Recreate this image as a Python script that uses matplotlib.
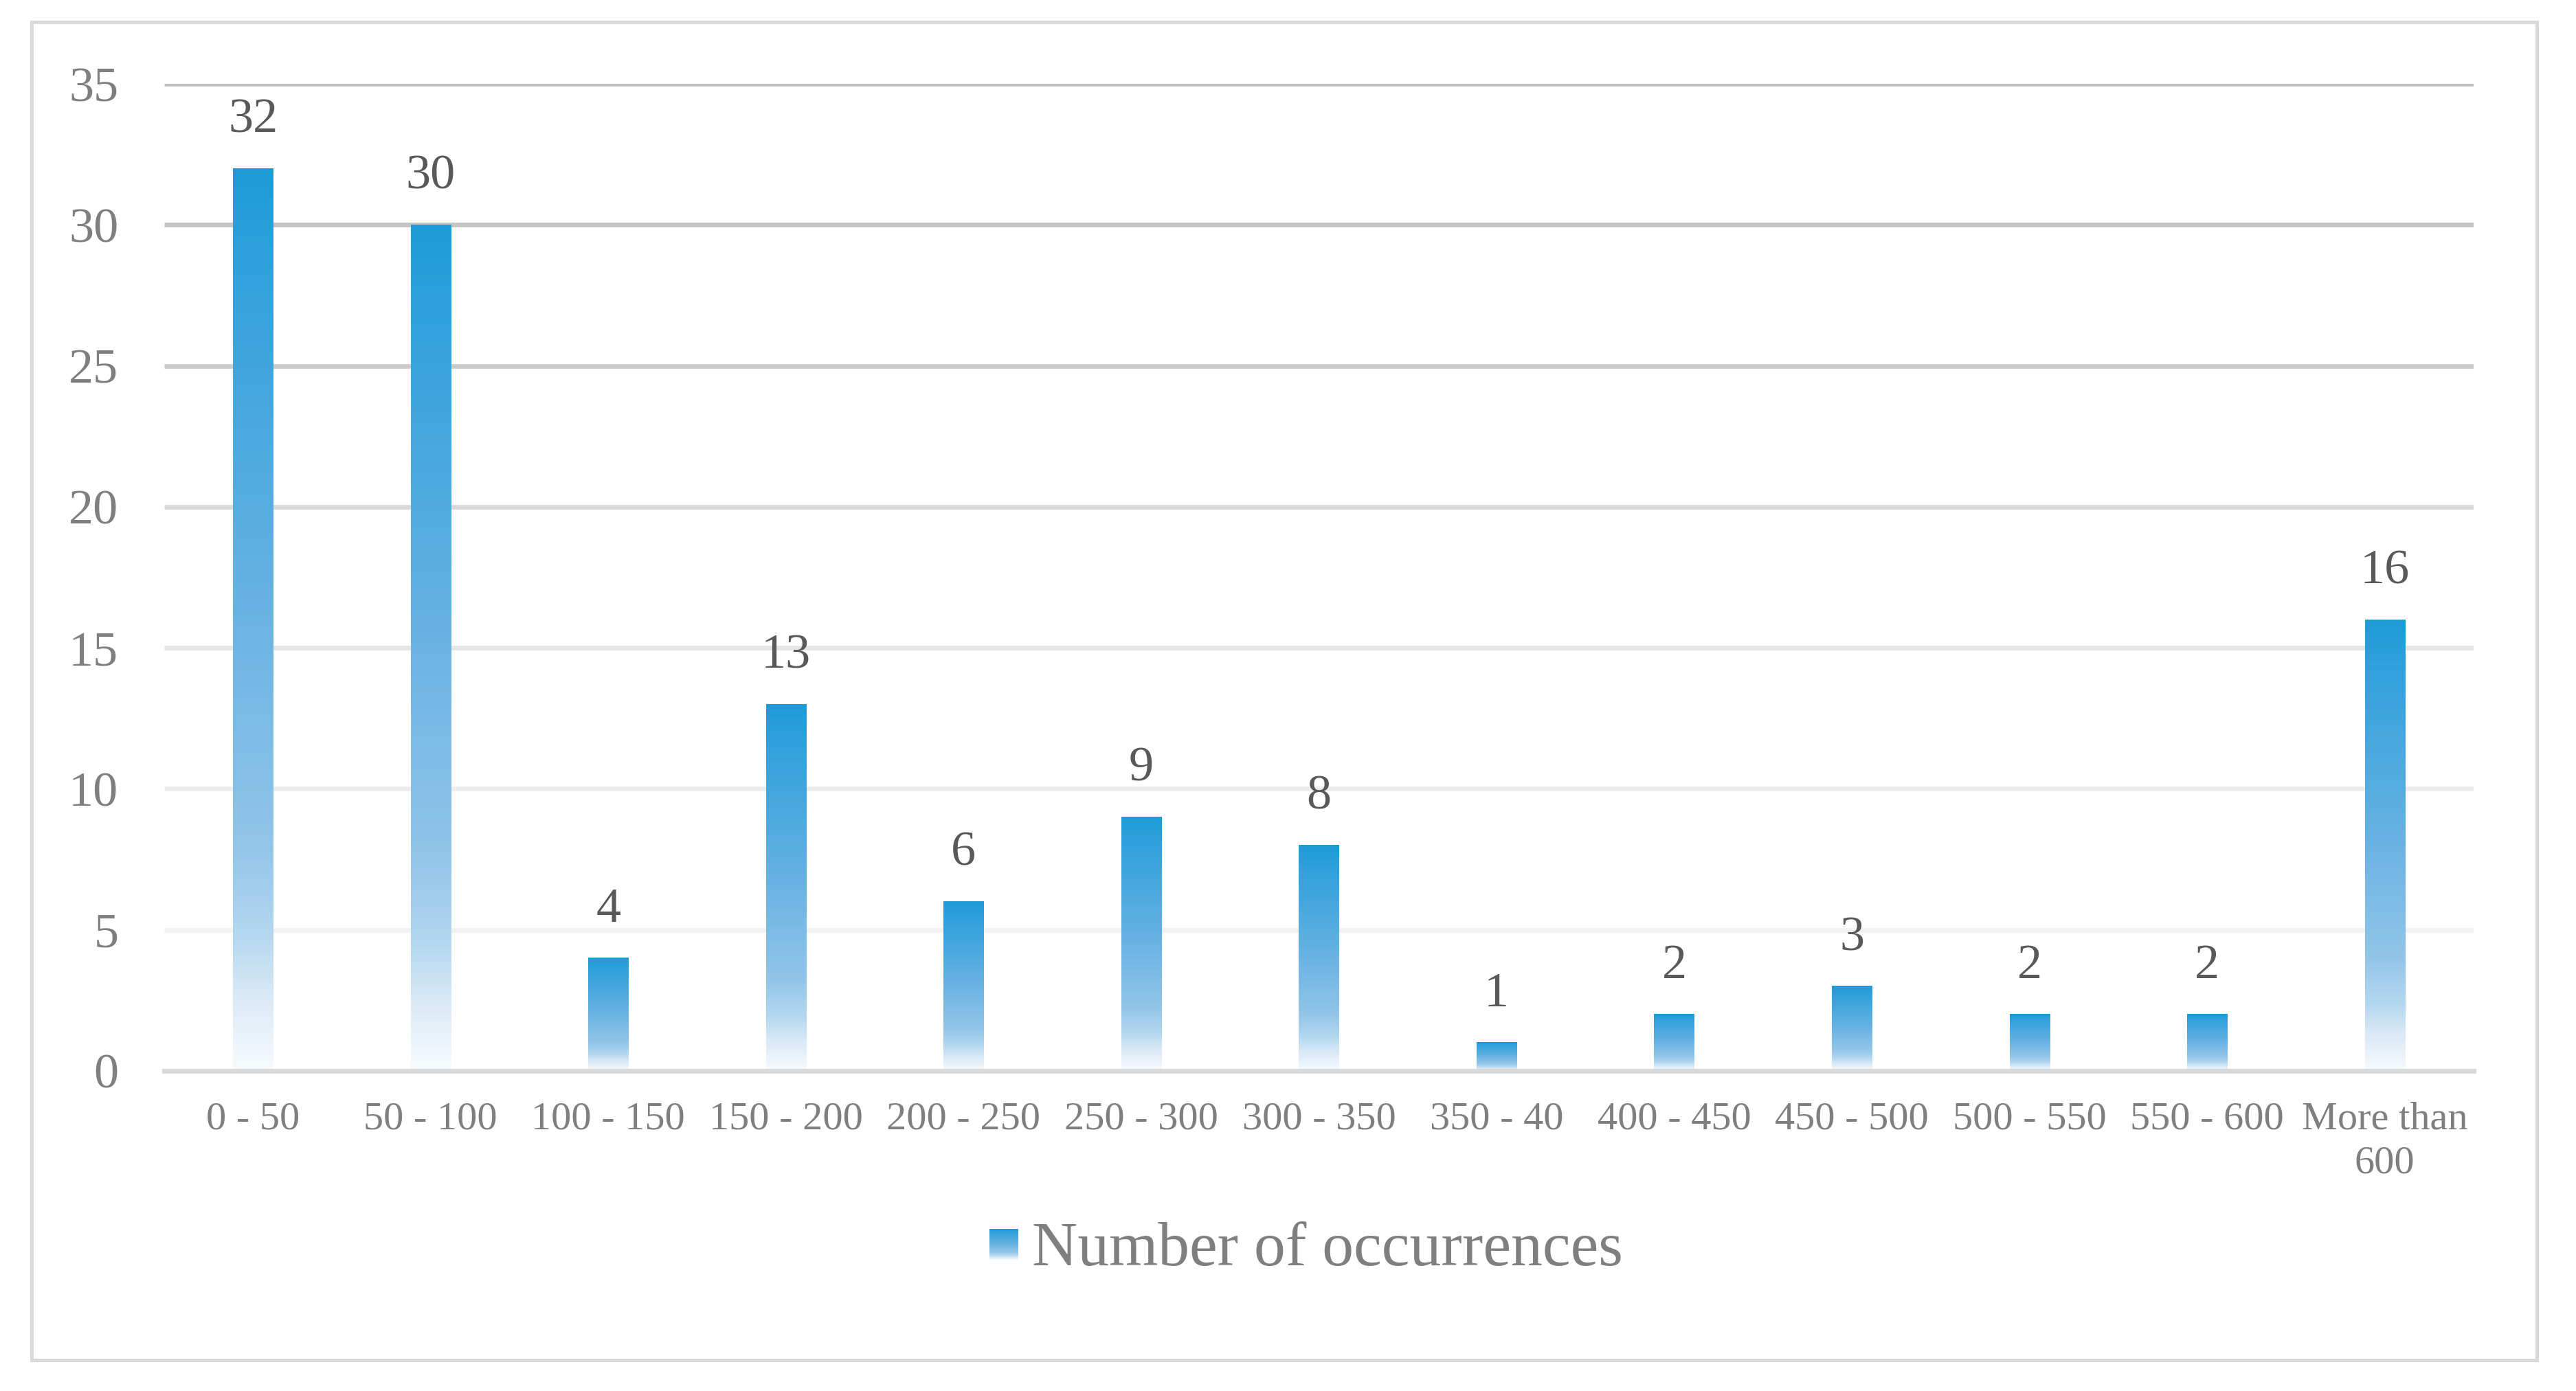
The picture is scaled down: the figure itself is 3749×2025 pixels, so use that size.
import numpy as np
import matplotlib
matplotlib.use("Agg")
import matplotlib.pyplot as plt
from matplotlib.colors import LinearSegmentedColormap
from matplotlib.patches import Rectangle

categories = ["0 - 50", "50 - 100", "100 - 150", "150 - 200", "200 - 250",
              "250 - 300", "300 - 350", "350 - 40", "400 - 450", "450 - 500",
              "500 - 550", "550 - 600", "More than\n600"]
occurrences = [32, 30, 4, 13, 6, 9, 8, 1, 2, 3, 2, 2, 16]
yticks = [0, 5, 10, 15, 20, 25, 30, 35]
series_name = "Number of occurrences"

plt.rcParams['font.family'] = ['Liberation Serif', 'DejaVu Serif']

W, H, DPI = 3749, 2025, 100
fig = plt.figure(figsize=(W / DPI, H / DPI), dpi=DPI)
fig.patch.set_facecolor('white')

# outer frame
fig.patches.append(Rectangle((46 / W, 1 - 1980 / H), (3692 - 46) / W, (1980 - 32) / H,
                             transform=fig.transFigure, fill=False,
                             edgecolor='#d9d9d9', linewidth=3.6, zorder=0))

ax = fig.add_axes([239 / W, 1 - 1559 / H, (3600 - 239) / W, (1559 - 122) / H])

grad_cmap = LinearSegmentedColormap.from_list("barfade", [
    (0.00, '#f7fbfe'),
    (0.08, '#dae9f6'),
    (0.15, '#b3d7f0'),
    (0.25, '#92c5e9'),
    (0.55, '#62b0e2'),
    (0.89, '#31a1dc'),
    (1.00, '#1e9bd7'),
])
grad = np.linspace(0, 1, 512).reshape(-1, 1)

x = np.arange(len(categories))
bars = ax.bar(x, occurrences, width=0.225, color='none', edgecolor='none', zorder=3)
for b in bars:
    x0, w, h = b.get_x(), b.get_width(), b.get_height()
    ax.imshow(grad, cmap=grad_cmap, origin='lower', aspect='auto',
              extent=(x0, x0 + w, 0, h), zorder=3, interpolation='bilinear')

# graded gridlines
grid_colors = ['#f2f2f2', '#ededed', '#e5e5e5', '#d9d9d9', '#cccccc', '#c4c4c4', '#bfbfbf']
for yv, c in zip(yticks[1:], grid_colors):
    ax.axhline(yv, color=c, linewidth=4.8, zorder=1, solid_capstyle='butt')

ax.set_xlim(-0.5, len(categories) - 0.5)
ax.set_ylim(0, 35)
ax.set_yticks(yticks)
ax.set_xticks(x)
ax.set_xticklabels(categories)

for s in ['top', 'right', 'left']:
    ax.spines[s].set_visible(False)
ax.spines['bottom'].set_color('#d9d9d9')
ax.spines['bottom'].set_linewidth(5)
ax.spines['bottom'].set_zorder(4)

ax.tick_params(axis='y', length=0, pad=48, labelsize=52, labelcolor='#7f7f7f')
ax.tick_params(axis='x', length=0, pad=32, labelsize=42, labelcolor='#7f7f7f')
for lab in ax.get_xticklabels():
    lab.set_linespacing(1.3)

for b, v in zip(bars, occurrences):
    ax.annotate(str(v), (b.get_x() + b.get_width() / 2, b.get_height()),
                xytext=(0, 38), textcoords='offset points', ha='center', va='baseline',
                fontsize=52, color='#595959', zorder=5)

# legend: gradient swatch + text
sw = fig.add_axes([1440 / W, 1 - 1834 / H, 42 / W, 45 / H])
sw.imshow(grad, cmap=grad_cmap, origin='lower', aspect='auto', extent=(0, 1, 0, 1))
sw.set_axis_off()
fig.text(1502 / W, 1 - 1820 / H, series_name, fontsize=66, color='#7f7f7f',
         ha='left', va='center')

fig.savefig("out.png", dpi=DPI, facecolor='white')
